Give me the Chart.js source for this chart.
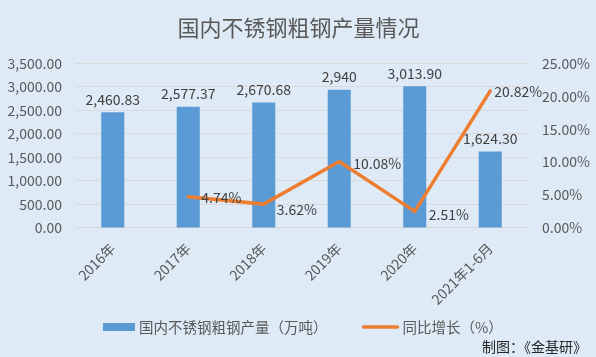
<!DOCTYPE html>
<html><head><meta charset="utf-8">
<script src="https://cdn.jsdelivr.net/npm/chart.js@4/dist/chart.umd.min.js"></script>
<style>html,body{margin:0;padding:0;background:#DEEAF6;}#w{width:596px;height:357px;position:relative;}</style>
</head><body><div id="w"><canvas id="c" width="596" height="357"></canvas></div>
<script>
const categories = ['2016年','2017年','2018年','2019年','2020年','2021年1-6月'];
const output = [2460.83, 2577.37, 2670.68, 2940, 3013.90, 1624.30];
const outputLabels = ['2,460.83','2,577.37','2,670.68','2,940','3,013.90','1,624.30'];
const growth = [null, 4.74, 3.62, 10.08, 2.51, 20.82];
const growthLabels = ['', '4.74%', '3.62%', '10.08%', '2.51%', '20.82%'];
const leftTicks = [0,500,1000,1500,2000,2500,3000,3500];
const rightTicks = [0,5,10,15,20,25];
const titleText = '国内不锈钢粗钢产量情况';
const seriesNames = ['国内不锈钢粗钢产量（万吨）','同比增长（%）'];
const sourceText = '制图：《金基研》';

const FONT = "'Noto Sans CJK SC','Noto Sans',sans-serif";
const BAR_COLOR = '#5B9BD5', LINE_COLOR = '#ED7D31';
const fmt2 = v => v.toLocaleString('en-US',{minimumFractionDigits:2,maximumFractionDigits:2});

const labelPlugin = {
  id:'labels',
  afterDatasetsDraw(chart){
    const ctx = chart.ctx;
    ctx.save();
    ctx.font = '14px ' + FONT;
    ctx.fillStyle = '#404040';
    const barMeta = chart.getDatasetMeta(0);
    ctx.textAlign='center'; ctx.textBaseline='bottom';
    barMeta.data.forEach((el,i)=>{ ctx.fillText(outputLabels[i], el.x, el.y - 6); });
    const lineMeta = chart.getDatasetMeta(1);
    ctx.textAlign='left'; ctx.textBaseline='middle';
    const offs = [[0,0],[13,1],[13,6],[14,2],[14,3],[4,1]];
    lineMeta.data.forEach((el,i)=>{
      if (growth[i]===null) return;
      ctx.fillText(growthLabels[i], el.x + offs[i][0], el.y + offs[i][1]);
    });
    ctx.restore();
  },
  afterDraw(chart){
    const ctx = chart.ctx;
    ctx.save();
    // legend
    const ly = 327;
    ctx.font = '14.5px ' + FONT;
    ctx.textAlign='left'; ctx.textBaseline='middle';
    ctx.fillStyle = BAR_COLOR;
    ctx.fillRect(103, ly-4, 32, 8);
    ctx.fillStyle = '#595959';
    ctx.fillText(seriesNames[0], 139, ly);
    const w0 = ctx.measureText(seriesNames[0]).width;
    const x1 = 139 + w0 + 36;
    ctx.strokeStyle = LINE_COLOR; ctx.lineWidth = 3.5; ctx.lineCap='round';
    ctx.beginPath(); ctx.moveTo(x1, ly); ctx.lineTo(x1+34, ly); ctx.stroke();
    ctx.fillText(seriesNames[1], x1+39, ly);
    // source
    ctx.font = '14px ' + FONT;
    ctx.fillStyle = '#262626';
    ctx.textAlign='right';
    ctx.fillText(sourceText, 587, 347);
    ctx.restore();
  }
};

new Chart(document.getElementById('c'), {
  data:{
    labels: categories,
    datasets:[
      {type:'bar', label:seriesNames[0], data:output, backgroundColor:BAR_COLOR, yAxisID:'y', barPercentage:0.5, categoryPercentage:0.61, order:2},
      {type:'line', label:seriesNames[1], data:growth, borderColor:LINE_COLOR, backgroundColor:LINE_COLOR, borderWidth:3.5, pointRadius:0, yAxisID:'y1', order:1, spanGaps:false, borderCapStyle:'round'}
    ]
  },
  options:{
    responsive:false, animation:false,
    layout:{padding:{left:1,right:0,top:0,bottom:45}},
    plugins:{
      title:{display:true, text:titleText, color:'#595959', font:{family:FONT,size:22,weight:'normal'}, padding:{top:14,bottom:23}},
      legend:{display:false},
      tooltip:{enabled:false}
    },
    scales:{
      x:{grid:{display:false}, border:{color:'#D9D9D9'}, ticks:{color:'#595959', font:{family:FONT,size:14}, maxRotation:45, minRotation:45, padding:4}},
      y:{position:'left', min:0, max:3500, afterBuildTicks(ax){ax.ticks = leftTicks.map(v=>({value:v}));},
        afterFit(ax){ ax.width = 74; },
        grid:{color:'#D9D9D9', lineWidth:1, drawTicks:false}, border:{display:false},
        ticks:{color:'#595959', font:{family:FONT,size:14}, padding:13, callback:v=>fmt2(v)}},
      y1:{position:'right', min:0, max:25, afterBuildTicks(ax){ax.ticks = rightTicks.map(v=>({value:v}));},
        afterFit(ax){ ax.width = 68; },
        grid:{display:false, drawTicks:false}, border:{display:false},
        ticks:{color:'#595959', font:{family:FONT,size:14}, padding:14, callback:v=>v.toFixed(2)+'%'}}
    }
  },
  plugins:[labelPlugin]
});
</script></body></html>
